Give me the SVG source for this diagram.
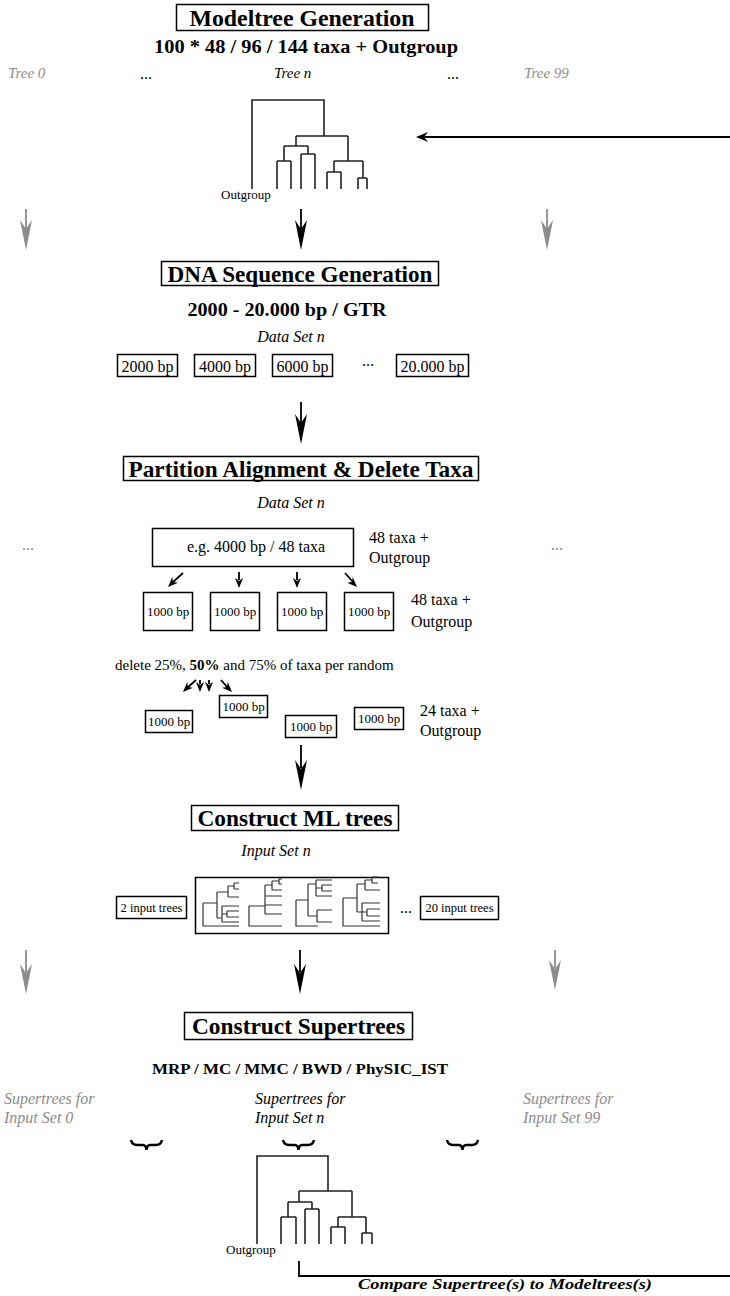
<svg xmlns="http://www.w3.org/2000/svg" width="730" height="1296" viewBox="0 0 730 1296">
<style>
text{font-family:"Liberation Serif","Times New Roman",serif;fill:#000}
.h{font-size:24px;font-weight:bold;text-anchor:middle}
.sub{font-size:18px;font-weight:bold;text-anchor:middle}
.it{font-style:italic;font-size:15px}
.grey{fill:#8c8c8c}
.bp{font-size:16px;text-anchor:middle}
.sm{font-size:13px;text-anchor:middle}
.lbl{font-size:16px}
.box{fill:#fff;stroke:#000;stroke-width:1.5}
.tree{fill:none;stroke:#222;stroke-width:1.6}
.mini{fill:none;stroke:#333;stroke-width:1.2}
.ln{fill:none;stroke:#000;stroke-width:1.8}
.gln{fill:none;stroke:#8c8c8c;stroke-width:1.8}
.brace{fill:none;stroke:#000;stroke-width:2.4}
</style>
<defs>
<path id="bigHead" d="M0,0 L-6,-30 L0,-21 L6,-30 Z"/>
<path id="smHead" d="M0,0 L-4,-10 L0,-7 L4,-10 Z"/>
<path id="lHead" d="M0,0 L12,-5 L8,0 L12,5 Z"/>
</defs>

<g id="modeltree-generation">
<rect class="box" x="176.5" y="4.5" width="252" height="26"/>
<text class="h" x="302" y="26" textLength="225" lengthAdjust="spacingAndGlyphs">Modeltree Generation</text>
<text class="sub" x="306" y="53" textLength="304" lengthAdjust="spacingAndGlyphs">100 *  48 / 96 / 144 taxa + Outgroup</text>
<text class="it grey" x="8" y="78">Tree 0</text>
<text class="lbl" x="140" y="79">...</text>
<text class="it" x="274" y="78">Tree n</text>
<text class="lbl" x="447" y="79">...</text>
<text class="it grey" x="524" y="78">Tree 99</text>
</g>

<g id="model-tree">
<path class="tree" d="M252,189 V100 H324 V136 M296,136 H348 M296,136 V146 M284,146 H308 M284,146 V161 M277,161 H291 M277,161 V189 M291,161 V189 M308,146 V154 M301,154 H315 M301,154 V189 M315,154 V189 M348,136 V161 M334,161 H363 M334,161 V172 M327,172 H341 M327,172 V189 M341,172 V189 M363,161 V178 M358,178 H367 M358,178 V189 M367,178 V189"/>
<text x="221" y="199" style="font-size:13px">Outgroup</text>
</g>

<g id="dna-sequence-generation">
<rect class="box" x="161.5" y="261.5" width="277" height="24"/>
<text class="h" x="300" y="282" textLength="265" lengthAdjust="spacingAndGlyphs">DNA Sequence Generation</text>
<text class="sub" x="287" y="316" textLength="199" lengthAdjust="spacingAndGlyphs">2000 - 20.000 bp / GTR</text>
<text class="it" x="291" y="342" style="text-anchor:middle;font-size:16px">Data Set n</text>
<rect class="box" x="117.5" y="354.5" width="60" height="22"/>
<text class="bp" x="147.5" y="372">2000 bp</text>
<rect class="box" x="194.5" y="354.5" width="61" height="22"/>
<text class="bp" x="225" y="372">4000 bp</text>
<rect class="box" x="272.5" y="354.5" width="60" height="22"/>
<text class="bp" x="302.5" y="372">6000 bp</text>
<text class="lbl" x="362" y="366">...</text>
<rect class="box" x="396.5" y="354.5" width="72" height="22"/>
<text class="bp" x="432.5" y="372">20.000 bp</text>
</g>

<g id="partition-alignment">
<rect class="box" x="123.5" y="456.5" width="355" height="24"/>
<text class="h" x="301" y="477" textLength="345" lengthAdjust="spacingAndGlyphs">Partition Alignment &amp; Delete Taxa</text>
<text class="it" x="291" y="508" style="text-anchor:middle;font-size:16px">Data Set n</text>
<rect class="box" x="152.5" y="528.5" width="201" height="38"/>
<text x="256" y="552" style="font-size:16px;text-anchor:middle">e.g. 4000 bp / 48 taxa</text>
<text class="lbl" x="369" y="543">48 taxa +</text>
<text class="lbl" x="369" y="563">Outgroup</text>
<text class="lbl grey" x="22" y="550">...</text>
<text class="lbl grey" x="551" y="550">...</text>
<rect class="box" x="143.5" y="592.5" width="49" height="38"/>
<text class="sm" x="168" y="616">1000 bp</text>
<rect class="box" x="210.5" y="592.5" width="49" height="38"/>
<text class="sm" x="235" y="616">1000 bp</text>
<rect class="box" x="277.5" y="592.5" width="49" height="38"/>
<text class="sm" x="302" y="616">1000 bp</text>
<rect class="box" x="344.5" y="592.5" width="49" height="38"/>
<text class="sm" x="369" y="616">1000 bp</text>
<text class="lbl" x="411" y="605">48 taxa +</text>
<text class="lbl" x="411" y="627">Outgroup</text>
</g>

<g id="delete-taxa">
<text x="115" y="670" style="font-size:15px">delete 25%, <tspan font-weight="bold">50%</tspan> and 75% of taxa per random</text>
<rect class="box" x="145.5" y="710.5" width="47" height="22"/>
<text class="sm" x="169" y="726">1000 bp</text>
<rect class="box" x="219.5" y="695.5" width="48" height="22"/>
<text class="sm" x="243.5" y="711">1000 bp</text>
<rect class="box" x="285.5" y="715.5" width="51" height="22"/>
<text class="sm" x="311" y="731">1000 bp</text>
<rect class="box" x="354.5" y="707.5" width="49" height="22"/>
<text class="sm" x="379" y="723">1000 bp</text>
<text class="lbl" x="420" y="716">24 taxa +</text>
<text class="lbl" x="420" y="736">Outgroup</text>
</g>

<g id="construct-ml-trees">
<rect class="box" x="191.5" y="805.5" width="207" height="25"/>
<text class="h" x="295" y="826" textLength="195" lengthAdjust="spacingAndGlyphs">Construct ML trees</text>
<text class="it" x="276" y="856" style="text-anchor:middle;font-size:16px">Input Set n</text>
<rect class="box" x="116.5" y="896.5" width="70" height="22"/>
<text x="151.5" y="912" style="font-size:12.5px;text-anchor:middle">2 input trees</text>
<rect class="box" x="195.5" y="877.5" width="193" height="56"/>
<path class="mini" d="M203,903 V926 H239 M203,903 H217 M217,892 V918 M217,892 H228 M228,886 V897 M228,886 H234 M234,883 V889 M234,883 H239 M234,889 H239 M228,897 H239 M217,918 H222 M222,906 V922 M222,906 H239 M222,914 H227 M227,911 V917 M227,911 H239 M227,917 H239 M222,922 H239"/>
<path class="mini" d="M249,906 V926 H282 M249,906 H265 M265,885 V914 M265,885 H272 M272,881 V890 M272,881 H279 M279,879 V884 M279,879 H282 M279,884 H282 M272,890 H282 M265,896 H282 M265,905 H282 M265,914 H282"/>
<path class="mini" d="M296,900 V926 H318 M296,900 H308 M308,884 V916 M308,884 H316 M316,880 V896 M316,880 H332 M316,888 H322 M322,885 V891 M322,885 H332 M322,891 H332 M316,896 H332 M308,916 H317 M317,910 V922 M317,910 H332 M317,922 H332"/>
<path class="mini" d="M343,898 V926 H380 M343,898 H357 M357,884 V912 M357,884 H365 M365,880 V890 M365,880 H372 M372,877 V883 M372,877 H378 M372,883 H378 M365,890 H380 M357,912 H362 M362,903 V921 M362,903 H380 M362,912 H367 M367,909 V916 M367,909 H380 M367,916 H380 M362,921 H380"/>
<text class="lbl" x="400" y="913">...</text>
<rect class="box" x="420.5" y="896.5" width="78" height="23"/>
<text x="459.5" y="912" style="font-size:12.5px;text-anchor:middle">20 input trees</text>
</g>

<g id="construct-supertrees">
<rect class="box" x="184.5" y="1012.5" width="228" height="27"/>
<text class="h" x="298.5" y="1034" textLength="213" lengthAdjust="spacingAndGlyphs">Construct Supertrees</text>
<text x="300" y="1074" style="font-size:15px;font-weight:bold;text-anchor:middle" textLength="296" lengthAdjust="spacingAndGlyphs">MRP / MC / MMC  / BWD / PhySIC_IST</text>
<text class="it grey" x="4" y="1104" style="font-size:16px">Supertrees for</text>
<text class="it grey" x="4" y="1123" style="font-size:16px">Input Set 0</text>
<text class="it" x="255" y="1104" style="font-size:16px">Supertrees for</text>
<text class="it" x="255" y="1123" style="font-size:16px">Input Set n</text>
<text class="it grey" x="523" y="1104" style="font-size:16px">Supertrees for</text>
<text class="it grey" x="523" y="1123" style="font-size:16px">Input Set 99</text>
<path class="brace" d="M131,1140 Q132,1145 137,1145 L143,1145 Q146,1145 146.5,1150 Q147,1145 150,1145 L156,1145 Q161,1145 162,1140"/>
<path class="brace" d="M283,1140 Q284,1145 289,1145 L295,1145 Q298,1145 298.5,1150 Q299,1145 302,1145 L308,1145 Q313,1145 314,1140"/>
<path class="brace" d="M447,1140 Q448,1145 453,1145 L459,1145 Q462,1145 462.5,1150 Q463,1145 466,1145 L472,1145 Q477,1145 478,1140"/>
</g>

<g id="supertree">
<path class="tree" d="M257,1244 V1156 H328 V1191 M299,1191 H352 M299,1191 V1202 M288,1202 H312 M288,1202 V1217 M281,1217 H296 M281,1217 V1244 M296,1217 V1244 M312,1202 V1209 M305,1209 H319 M305,1209 V1244 M319,1209 V1244 M352,1191 V1217 M338,1217 H366 M338,1217 V1227 M331,1227 H345 M331,1227 V1244 M345,1227 V1244 M366,1217 V1233 M362,1233 H372 M362,1233 V1244 M372,1233 V1244"/>
<text x="226" y="1254" style="font-size:13px">Outgroup</text>
</g>

<g id="compare">
<text x="505" y="1289" style="font-size:15px;font-weight:bold;font-style:italic;text-anchor:middle" textLength="294" lengthAdjust="spacingAndGlyphs">Compare Supertree(s) to Modeltrees(s)</text>
</g>

<g id="connectors">
<line class="ln" x1="730" y1="137" x2="424" y2="137"/>
<use href="#lHead" x="416" y="137"/>
<line class="ln" x1="301" y1="209" x2="301" y2="230"/>
<use href="#bigHead" x="301" y="250"/>
<line class="gln" x1="26" y1="209" x2="26" y2="230"/>
<use href="#bigHead" x="26" y="250" fill="#8c8c8c"/>
<line class="gln" x1="547" y1="209" x2="547" y2="230"/>
<use href="#bigHead" x="547" y="250" fill="#8c8c8c"/>
<line class="ln" x1="301" y1="402" x2="301" y2="424"/>
<use href="#bigHead" x="301" y="444"/>
<line class="ln" x1="183" y1="573" x2="172" y2="583"/>
<use href="#smHead" transform="translate(168,587) rotate(45)"/>
<line class="ln" x1="239" y1="572" x2="239" y2="580"/>
<use href="#smHead" x="239" y="588"/>
<line class="ln" x1="297" y1="572" x2="297" y2="580"/>
<use href="#smHead" x="297" y="588"/>
<line class="ln" x1="345" y1="573" x2="353" y2="582"/>
<use href="#smHead" transform="translate(357,587) rotate(-45)"/>
<line class="ln" x1="196" y1="680" x2="187" y2="688"/>
<use href="#smHead" transform="translate(183,692) rotate(45)"/>
<line class="ln" x1="200" y1="680" x2="200" y2="684"/>
<use href="#smHead" x="200" y="692"/>
<line class="ln" x1="209" y1="680" x2="209" y2="684"/>
<use href="#smHead" x="209" y="692"/>
<line class="ln" x1="221" y1="680" x2="228" y2="688"/>
<use href="#smHead" transform="translate(232,692) rotate(-45)"/>
<line class="ln" x1="301" y1="745" x2="301" y2="768"/>
<use href="#bigHead" x="301" y="790"/>
<line class="gln" x1="26" y1="950" x2="26" y2="972"/>
<use href="#bigHead" x="26" y="994" fill="#8c8c8c"/>
<line class="ln" x1="300" y1="950" x2="300" y2="972"/>
<use href="#bigHead" x="300" y="994"/>
<line class="gln" x1="555" y1="950" x2="555" y2="968"/>
<use href="#bigHead" x="555" y="990" fill="#8c8c8c"/>
<path class="ln" d="M299,1261 V1276 H730"/>
</g>
</svg>
